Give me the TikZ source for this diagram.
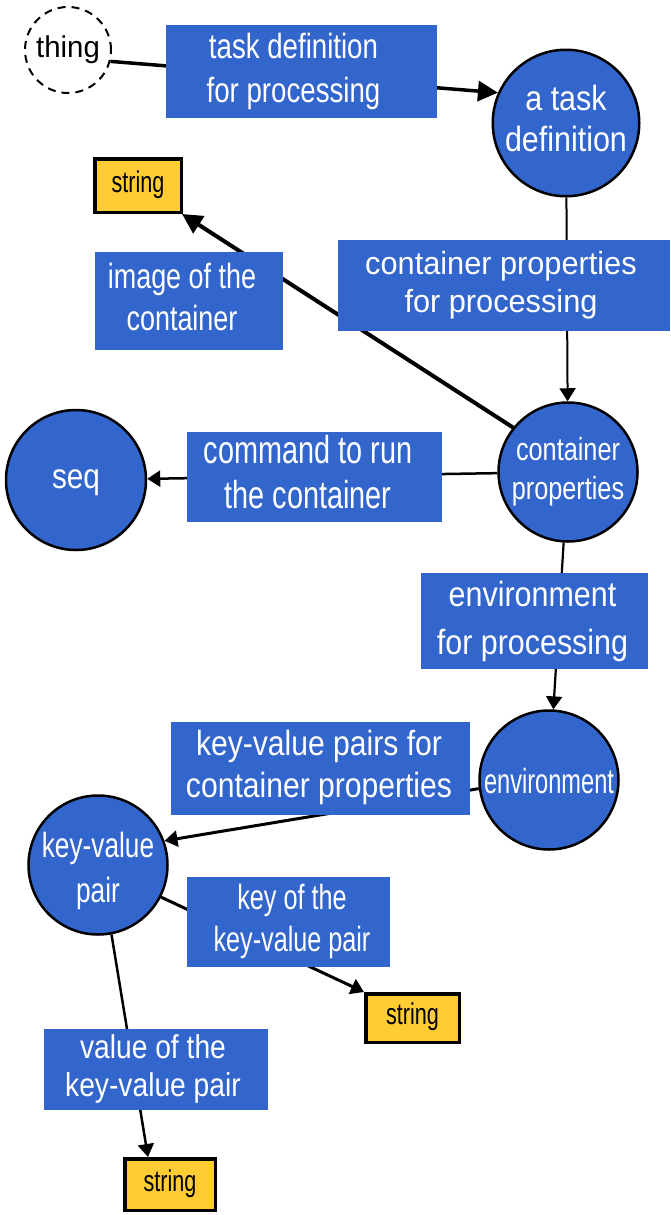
\documentclass[tikz,border=0pt]{standalone}
\usepackage{fontspec}
\setmainfont{Liberation Sans}
\usepackage{graphicx}
\usetikzlibrary{arrows.meta}
\definecolor{nodeblue}{HTML}{3366CC}
\definecolor{stryellow}{HTML}{FFCC33}
% horizontally condensed, centred multi-line text: {x-scale}{size}{line skip}{lines}
\newcommand\lbl[4]{\scalebox{#1}[1]{\fontsize{#2}{#3}\selectfont\begin{tabular}{@{}c@{}}#4\end{tabular}}}

\begin{document}
\begin{tikzpicture}[x=1pt,y=-1pt,
  concept/.style={circle,draw=black,line width=2.5pt,fill=nodeblue,text=white,
    minimum size=139pt,inner sep=0pt},
  conceptname/.style={text=white,inner sep=0pt},
  thingnode/.style={circle,draw=black,line width=2pt,dash pattern=on 8pt off 6pt,
    minimum size=86pt,inner sep=0pt},
  literal/.style={rectangle,draw=black,line width=3.5pt,fill=stryellow,inner sep=0pt},
  edgelabel/.style={rectangle,fill=nodeblue,text=white,inner sep=0pt},
  bigtip/.style={-{Triangle[length=20pt,width=20pt]}},
  smalltip/.style={-{Triangle[length=13pt,width=16pt]}}]
\useasboundingbox (0,0) rectangle (670,1215);

% classes and literals
\node[thingnode] (thing) at (68,50) {\lbl{0.98}{30}{36}{thing}};
\node[concept,minimum size=140pt] (taskdef) at (566,123) {\lbl{0.87}{35}{41}{a task\\definition}};
\node[concept] (cprops) at (568,472) {\lbl{0.79}{32}{39}{container\\properties}};
\node[concept,minimum size=140pt] (seq) at (76,480) {\lbl{0.85}{35}{41}{seq}};
\node[concept] (env) at (549,780) {};
\node[conceptname,yshift=-5pt] (envname) at (env) {\lbl{0.675}{35}{41}{environment}};
\node[concept] (kv) at (98,865) {};
\node[conceptname,yshift=-6pt] (kvname) at (kv) {\lbl{0.75}{35}{45}{key-value\\pair}};
\node[literal,minimum width=86.5pt,minimum height=53.5pt] (str1) at (138,185.5) {\lbl{0.72}{30}{34}{string}};
\node[literal,minimum width=93.5pt,minimum height=48.5pt] (str2) at (412.5,1018) {\lbl{0.72}{30}{34}{string}};
\node[literal,minimum width=90.5pt,minimum height=51.5pt] (str3) at (170,1184.5) {\lbl{0.72}{30}{34}{string}};

% properties
\draw[line width=3.5pt,bigtip] (thing.-15) -- (taskdef.156);
\draw[line width=2pt,smalltip] (taskdef) -- (cprops);
\draw[line width=4pt,bigtip] (cprops.141) -- (str1);
\draw[line width=2.5pt,smalltip] (cprops) -- (seq);
\draw[line width=2.2pt,smalltip] (cprops) -- (env);
\draw[line width=3pt,smalltip] (env.187) -- (kv.20);
\draw[line width=3pt,smalltip] (kv.-27) -- (str2.north west);
\draw[line width=2.5pt,smalltip] (kv.-79.5) -- ([xshift=-22pt]str3.north);

% property labels (a leading kern of 2d moves the text by d)
\node[edgelabel,minimum width=271pt,minimum height=93pt] (l1) at (301.5,71.5)
  {\kern-16pt\lbl{0.79}{35}{45}{task definition\\for processing}};
\node[edgelabel,minimum width=332pt,minimum height=91pt] (l2) at (504,285.5)
  {\kern-6pt\lbl{0.96}{32}{38}{container properties\\for processing}};
\node[edgelabel,minimum width=188pt,minimum height=98pt] (l3) at (189,301)
  {\kern-14pt\lbl{0.77}{35}{42}{image of the\\container}};
\node[edgelabel,minimum width=255pt,minimum height=88pt] (l4) at (314.5,477)
  {\kern-13pt\lbl{0.74}{39}{45}{command to run\\the container}};
\node[edgelabel,minimum width=227pt,minimum height=92pt] (l5) at (534.5,621)
  {\kern-4pt\lbl{0.87}{35}{48}{environment\\for processing}};
\node[edgelabel,minimum width=299pt,minimum height=93pt] (l6) at (320.5,768.5)
  {\kern-3pt\lbl{0.86}{35}{42}{key-value pairs for\\container properties}};
\node[edgelabel,minimum width=203pt,minimum height=90pt] (l7) at (288.5,922)
  {\kern7pt\lbl{0.72}{35}{42}{key of the\\key-value pair}};
\node[edgelabel,minimum width=224pt,minimum height=81pt] (l8) at (156,1069.5)
  {\kern-6pt\lbl{0.855}{33}{38}{value of the\\key-value pair}};
\end{tikzpicture}
\end{document}
